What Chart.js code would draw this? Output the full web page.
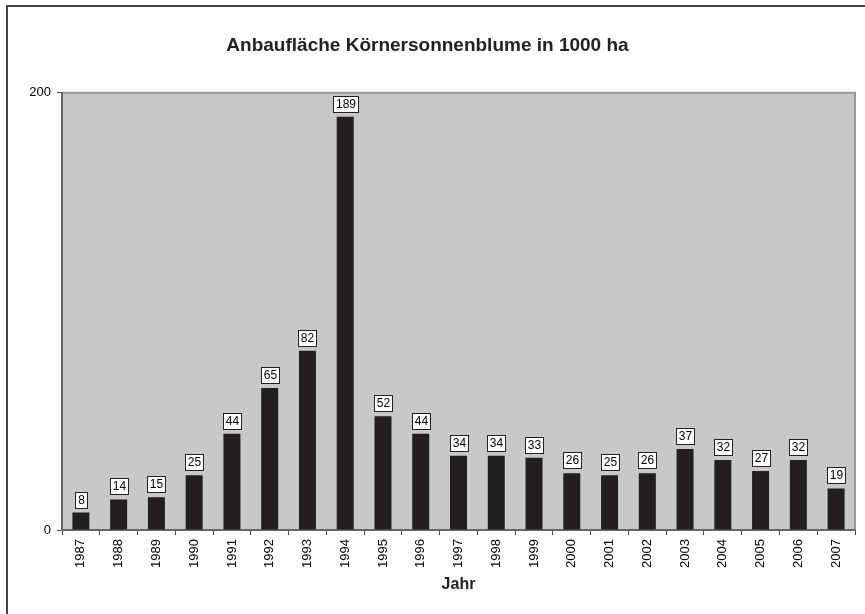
<!DOCTYPE html>
<html>
<head>
<meta charset="utf-8">
<script src="https://cdn.jsdelivr.net/npm/chart.js@4.4.1/dist/chart.umd.min.js"></script>
<style>
    html, body { margin: 0; padding: 0; background: #fff; }
    #wrap { width: 865px; height: 614px; position: relative; }
</style>
</head>
<body>
<div id="wrap"><canvas id="myChart"></canvas></div>
<script>
var years = ['1987', '1988', '1989', '1990', '1991', '1992', '1993', '1994', '1995', '1996', '1997',
    '1998', '1999', '2000', '2001', '2002', '2003', '2004', '2005', '2006', '2007'];
var areaValues = [8, 14, 15, 25, 44, 65, 82, 189, 52, 44, 34, 34, 33, 26, 25, 26, 37, 32, 27, 32, 19];
var yTicks = [0, 200];

var FONT = '"Liberation Sans", Arial, Helvetica, sans-serif';

// gray plot background, top/right frame and the outer left/top border
var backdrop = {
    id: 'backdrop',
    beforeDraw: function(chart) {
        var ctx = chart.ctx;
        var a = chart.chartArea;
        ctx.save();
        ctx.fillStyle = '#444';
        ctx.fillRect(6, 5, 865, 2);
        ctx.fillRect(6, 5, 2, 614);
        ctx.fillStyle = '#c8c8c8';
        ctx.fillRect(a.left, a.top, a.right - a.left, a.bottom - a.top);
        ctx.fillStyle = '#999';
        ctx.fillRect(a.left, a.top - 1, a.right - a.left + 1, 2);
        ctx.fillRect(a.right - 1, a.top - 1, 2, a.bottom - a.top + 1);
        ctx.restore();
    }
};

// value boxes above each bar
var valueBoxes = {
    id: 'valueBoxes',
    afterDatasetsDraw: function(chart) {
        var ctx = chart.ctx;
        var meta = chart.getDatasetMeta(0);
        ctx.save();
        ctx.font = '12px ' + FONT;
        meta.data.forEach(function(bar, i) {
            var txt = String(areaValues[i]);
            var w = Math.round(ctx.measureText(txt).width + 5);
            var h = 16;
            var x = Math.round(bar.x - w / 2);
            var y = Math.round(bar.y - 5 - h);
            ctx.fillStyle = '#fff';
            ctx.fillRect(x, y, w, h);
            ctx.strokeStyle = '#222';
            ctx.lineWidth = 1;
            ctx.strokeRect(x + 0.5, y + 0.5, w, h);
            ctx.fillStyle = '#000';
            ctx.textAlign = 'center';
            ctx.textBaseline = 'middle';
            ctx.fillText(txt, x + w / 2 + 0.5, y + h / 2 + 1);
        });
        ctx.restore();
    }
};

var ctx = document.getElementById('myChart').getContext('2d');
var myChart = new Chart(ctx, {
    type: 'bar',
    data: {
        labels: years,
        datasets: [{
            data: areaValues,
            backgroundColor: '#231f20',
            categoryPercentage: 1,
            barPercentage: 0.45
        }]
    },
    options: {
        responsive: true,
        maintainAspectRatio: false,
        animation: false,
        layout: { padding: { left: 0, right: 10, top: 0, bottom: 0 } },
        plugins: {
            legend: { display: false },
            tooltip: { enabled: false },
            title: {
                display: true,
                text: 'Anbaufläche Körnersonnenblume in 1000 ha',
                color: '#222',
                font: { family: FONT, size: 19, weight: 'bold' },
                padding: { top: 34, bottom: 36 }
            }
        },
        scales: {
            x: {
                offset: true,
                grid: {
                    offset: true,
                    drawOnChartArea: false,
                    drawTicks: true,
                    tickLength: 5,
                    color: '#444'
                },
                border: { color: '#666', width: 2 },
                ticks: {
                    autoSkip: false,
                    minRotation: 90,
                    maxRotation: 90,
                    padding: 4,
                    color: '#000',
                    font: { family: FONT, size: 13 }
                },
                title: {
                    display: true,
                    text: 'Jahr',
                    color: '#222',
                    font: { family: FONT, size: 16, weight: 'bold' },
                    padding: { top: 0, bottom: 20 }
                },
                afterFit: function(scale) { scale.height = 84; }
            },
            y: {
                min: yTicks[0],
                max: yTicks[yTicks.length - 1],
                afterBuildTicks: function(scale) {
                    scale.ticks = yTicks.map(function(v) { return { value: v }; });
                },
                grid: {
                    drawOnChartArea: false,
                    drawTicks: true,
                    tickLength: 5,
                    color: '#444'
                },
                border: { color: '#666', width: 2 },
                ticks: {
                    padding: 6,
                    color: '#000',
                    font: { family: FONT, size: 13 }
                },
                afterFit: function(scale) { scale.width = 62; }
            }
        }
    },
    plugins: [backdrop, valueBoxes]
});
</script>
</body>
</html>
